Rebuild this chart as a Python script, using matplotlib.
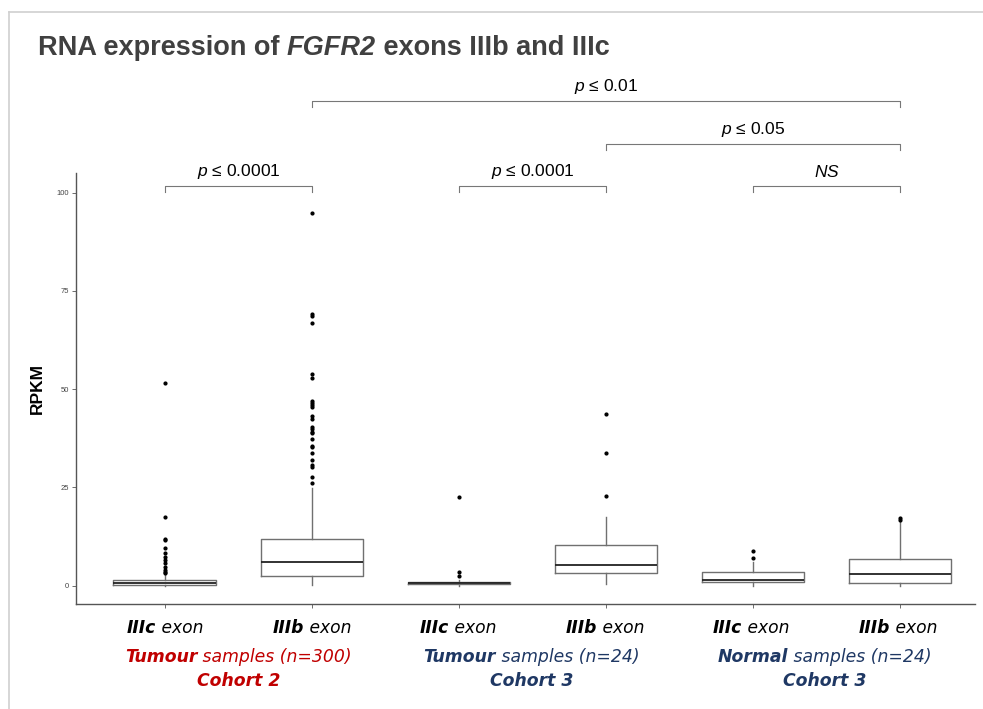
import numpy as np
from matplotlib import pyplot as plt

# box summary values (RPKM)
exons = ["IIIc", "IIIb", "IIIc", "IIIb", "IIIc", "IIIb"]
q1 = [0.15, 2.5, 0.35, 3.2, 1.0, 0.6]
med = [0.6, 6.1, 0.6, 5.2, 1.45, 3.0]
q3 = [1.45, 11.8, 1.0, 10.3, 3.4, 6.8]
whislo = [0.0, 0.2, 0.0, 0.4, 0.0, 0.0]
whishi = [2.7, 24.8, 1.45, 17.6, 6.1, 16.3]
fliers = [
    [51.6, 17.5, 11.8, 11.5, 9.5, 8.4, 7.4, 6.5, 5.7, 4.8, 4.0, 3.6, 3.2],
    [94.8, 69.1, 68.6, 66.8, 53.9, 52.8, 47.1, 46.6, 46.0, 45.4, 43.2, 42.3,
     40.5, 39.8, 39.2, 38.8, 37.3, 35.5, 35.2, 33.7, 32.0, 30.7, 30.3, 27.7, 26.2],
    [22.5, 3.5, 2.5],
    [43.6, 33.7, 22.8],
    [8.7, 7.0],
    [17.1, 16.8],
]
yticks = [0, 25, 50, 75, 100]

groups = [("Tumour", " samples (n=300)", "Cohort 2"),
          ("Tumour", " samples (n=24)", "Cohort 3"),
          ("Normal", " samples (n=24)", "Cohort 3")]
group_colors = ["#c00000", "#1f3864", "#1f3864"]

# comparisons: (left box, right box, level, label)
comparisons = [(1, 2, 0, "$p$ \u2264 0.0001"), (3, 4, 0, "$p$ \u2264 0.0001"),
               (5, 6, 0, "$NS$"), (4, 6, 1, "$p$ \u2264 0.05"),
               (2, 6, 2, "$p$ \u2264 0.01")]

plt.rcParams['font.family'] = ['Liberation Sans', 'DejaVu Sans']
plt.rcParams['mathtext.fontset'] = 'custom'
plt.rcParams['mathtext.it'] = 'Liberation Sans:italic'
plt.rcParams['mathtext.rm'] = 'Liberation Sans'

W, H = 983, 709
fig = plt.figure(figsize=(W / 100, H / 100), dpi=100)
ax = fig.add_axes([76 / W, 1 - 604 / H, (975 - 76) / W, (604 - 173) / H])

pos = np.arange(1, len(exons) + 1)
stats = []
for i in range(len(exons)):
    stats.append(dict(med=med[i], q1=q1[i], q3=q3[i], whislo=whislo[i],
                      whishi=whishi[i], fliers=fliers[i]))

ax.bxp(stats, positions=pos, widths=0.7, showcaps=False,
       boxprops=dict(color="#707070", linewidth=1.0),
       whiskerprops=dict(color="#707070", linewidth=1.0),
       medianprops=dict(color="#222222", linewidth=1.3),
       flierprops=dict(marker="o", markersize=2.0, markerfacecolor="black",
                       markeredgecolor="black"))

ax.set_xlim(0.395, 6.51)
ax.set_ylim(-4.66, 105)
ax.set_yticks(yticks)
ax.set_yticklabels([str(v) for v in yticks], fontsize=5.5, color="#444444")
ax.set_xticks(pos)
ax.set_xticklabels([])
ax.tick_params(axis="both", length=3, width=0.6, color="#555555", pad=2)
for s in ["top", "right"]:
    ax.spines[s].set_visible(False)
for s in ["left", "bottom"]:
    ax.spines[s].set_color("#555555")
    ax.spines[s].set_linewidth(1.0)

fig.text(37 / W, 1 - 388 / H, "RPKM", rotation=90, fontsize=12.5,
         fontweight="bold", ha="center", va="center",
         family=['Liberation Sans Narrow', 'Liberation Sans'])

# significance brackets
levels = [101.7, 112.4, 123.3]
drop = 1.6
for a, b, lev, lab in comparisons:
    y = levels[lev]
    ax.plot([a, a, b, b], [y - drop, y, y, y - drop], color="#777777",
            linewidth=0.8, clip_on=False)
    ax.text((a + b) / 2, y + 3.6, lab, fontsize=12.5,
            ha="center", va="center", clip_on=False)

renderer = fig.canvas.get_renderer()


def rich(pieces, xc, yc, size, color, align="center", family=None):
    texts = []
    for s, st, w in pieces:
        t = fig.text(0, 0, s, fontsize=size, fontstyle=st, fontweight=w,
                     color=color, va="center", ha="left")
        if family:
            t.set_family(family)
        texts.append(t)
    widths = [t.get_window_extent(renderer).width for t in texts]
    x = xc - sum(widths) / 2 if align == "center" else xc
    for t, w in zip(texts, widths):
        t.set_position((x / W, 1 - yc / H))
        x += w
    return texts


# title
rich([("RNA expression of ", "normal", "bold"),
      ("FGFR2", "italic", "bold"),
      (" exons IIIb and IIIc", "normal", "bold")],
     38, 48, 19.5, "#404040", align="left")

# exon labels under each box
lab_font = ['DejaVu Sans']
x0, step = 165, 146.6
for i, ex in enumerate(exons):
    xc = x0 + step * i
    rich([(ex, "italic", "bold"), (" exon", "italic", "normal")],
         xc, 628, 12.3, "black", family=lab_font)

for g, (name, rest, cohort) in enumerate(groups):
    xc = x0 + step * (2 * g + 0.5)
    rich([(name, "italic", "bold"), (rest, "italic", "normal")],
         xc, 657, 12.4, group_colors[g], family=lab_font)
    rich([(cohort, "italic", "bold")], xc, 681, 12.4, group_colors[g],
         family=lab_font)

# slide frame
fig.add_artist(plt.Line2D([9 / W, 1], [1 - 12 / H, 1 - 12 / H],
                          color="#d0d0d0", linewidth=1.2))
fig.add_artist(plt.Line2D([9 / W, 9 / W], [0, 1 - 12 / H],
                          color="#d0d0d0", linewidth=1.2))

fig.savefig("out.png", dpi=100)
